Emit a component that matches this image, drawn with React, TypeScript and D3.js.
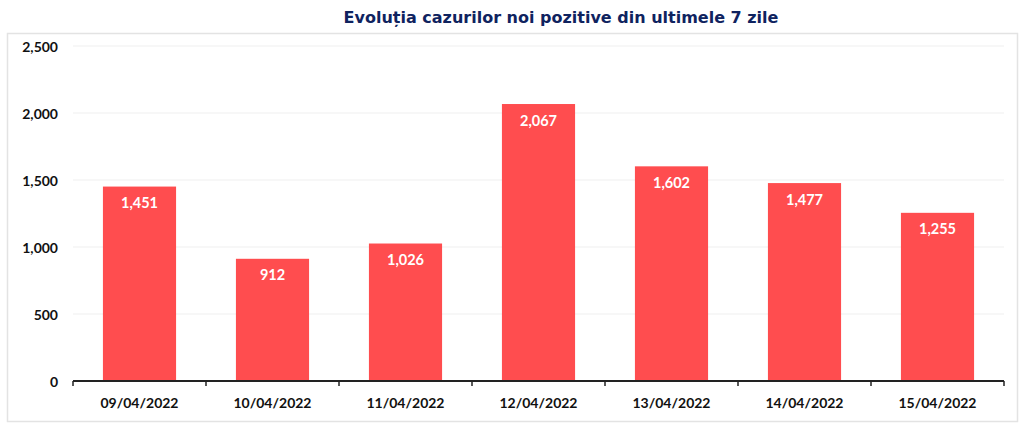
import { useEffect, useRef } from 'react';
import * as d3 from 'd3';

const dates = ['09/04/2022', '10/04/2022', '11/04/2022', '12/04/2022', '13/04/2022', '14/04/2022', '15/04/2022'];
const cases = [1451, 912, 1026, 2067, 1602, 1477, 1255];
const yTicks = [0, 500, 1000, 1500, 2000, 2500];
const title = 'Evoluția cazurilor noi pozitive din ultimele 7 zile';

const App = () => {
  const svgRef = useRef<SVGSVGElement | null>(null);

  useEffect(() => {
    if (!svgRef.current) return;
    const svg = d3.select(svgRef.current);
    svg.selectAll('*').remove();

    const width = 1024;
    const height = 427;
    const plot = { left: 73, right: 1004, top: 46, bottom: 381 };
    const labelFont = 'Lato, "Open Sans", sans-serif';

    svg.attr('width', width).attr('height', height);

    // Frame around the chart area
    svg.append('rect')
      .attr('x', 7.5)
      .attr('y', 33.5)
      .attr('width', 1010)
      .attr('height', 388)
      .attr('fill', '#fff')
      .attr('stroke', '#e3e3e3')
      .attr('stroke-width', 1.5);

    // Title
    svg.append('text')
      .attr('x', 561)
      .attr('y', 17)
      .attr('text-anchor', 'middle')
      .attr('dominant-baseline', 'central')
      .attr('font-family', '"DejaVu Sans", Verdana, sans-serif')
      .attr('font-weight', 'bold')
      .attr('font-size', '16px')
      .attr('fill', '#0f235f')
      .text(title);

    const x = d3.scaleBand<string>()
      .domain(dates)
      .range([plot.left, plot.right])
      .paddingInner(0.45)
      .paddingOuter(0.225);

    const y = d3.scaleLinear()
      .domain([0, 2500])
      .range([plot.bottom, plot.top]);

    // Gridlines
    svg.append('g')
      .selectAll('line')
      .data(yTicks.filter((t) => t > 0))
      .join('line')
      .attr('x1', plot.left)
      .attr('x2', plot.right)
      .attr('y1', (d) => y(d))
      .attr('y2', (d) => y(d))
      .attr('stroke', '#efefef')
      .attr('stroke-width', 1);

    // Y tick labels
    svg.append('g')
      .selectAll('text')
      .data(yTicks)
      .join('text')
      .attr('x', 58)
      .attr('y', (d) => y(d))
      .attr('text-anchor', 'end')
      .attr('dominant-baseline', 'central')
      .attr('font-family', labelFont)
      .attr('font-weight', 'bold')
      .attr('font-size', '14px')
      .attr('fill', '#111')
      .text((d) => d3.format(',')(d));

    // Bars
    svg.append('g')
      .selectAll('rect')
      .data(cases)
      .join('rect')
      .attr('x', (_, i) => x(dates[i]) ?? 0)
      .attr('y', (d) => y(d))
      .attr('width', x.bandwidth())
      .attr('height', (d) => y(0) - y(d))
      .attr('fill', '#ff4d4f');

    // Value labels
    svg.append('g')
      .selectAll('text')
      .data(cases)
      .join('text')
      .attr('x', (_, i) => (x(dates[i]) ?? 0) + x.bandwidth() / 2)
      .attr('y', (d) => y(d) + 16)
      .attr('text-anchor', 'middle')
      .attr('dominant-baseline', 'central')
      .attr('font-family', labelFont)
      .attr('font-weight', 'bold')
      .attr('font-size', '14.5px')
      .attr('fill', '#fff')
      .text((d) => d3.format(',')(d));

    // X axis
    const axis = svg.append('g');
    axis.append('line')
      .attr('x1', plot.left)
      .attr('x2', plot.right)
      .attr('y1', plot.bottom)
      .attr('y2', plot.bottom)
      .attr('stroke', '#222')
      .attr('stroke-width', 2);

    const step = x.step();
    axis.selectAll('line.tick')
      .data(d3.range(dates.length + 1))
      .join('line')
      .attr('class', 'tick')
      .attr('x1', (i) => plot.left + i * step)
      .attr('x2', (i) => plot.left + i * step)
      .attr('y1', plot.bottom)
      .attr('y2', plot.bottom + 5)
      .attr('stroke', '#222')
      .attr('stroke-width', 1.5);

    axis.selectAll('text')
      .data(dates)
      .join('text')
      .attr('x', (d) => (x(d) ?? 0) + x.bandwidth() / 2)
      .attr('y', 402)
      .attr('text-anchor', 'middle')
      .attr('dominant-baseline', 'central')
      .attr('font-family', labelFont)
      .attr('font-weight', 'bold')
      .attr('font-size', '14px')
      .attr('fill', '#111')
      .text((d) => d);
  }, []);

  return (
    <div style={{ position: 'fixed', left: 0, top: 0, background: '#fff' }}>
      <svg ref={svgRef} style={{ display: 'block' }}></svg>
    </div>
  );
};

export default App;
